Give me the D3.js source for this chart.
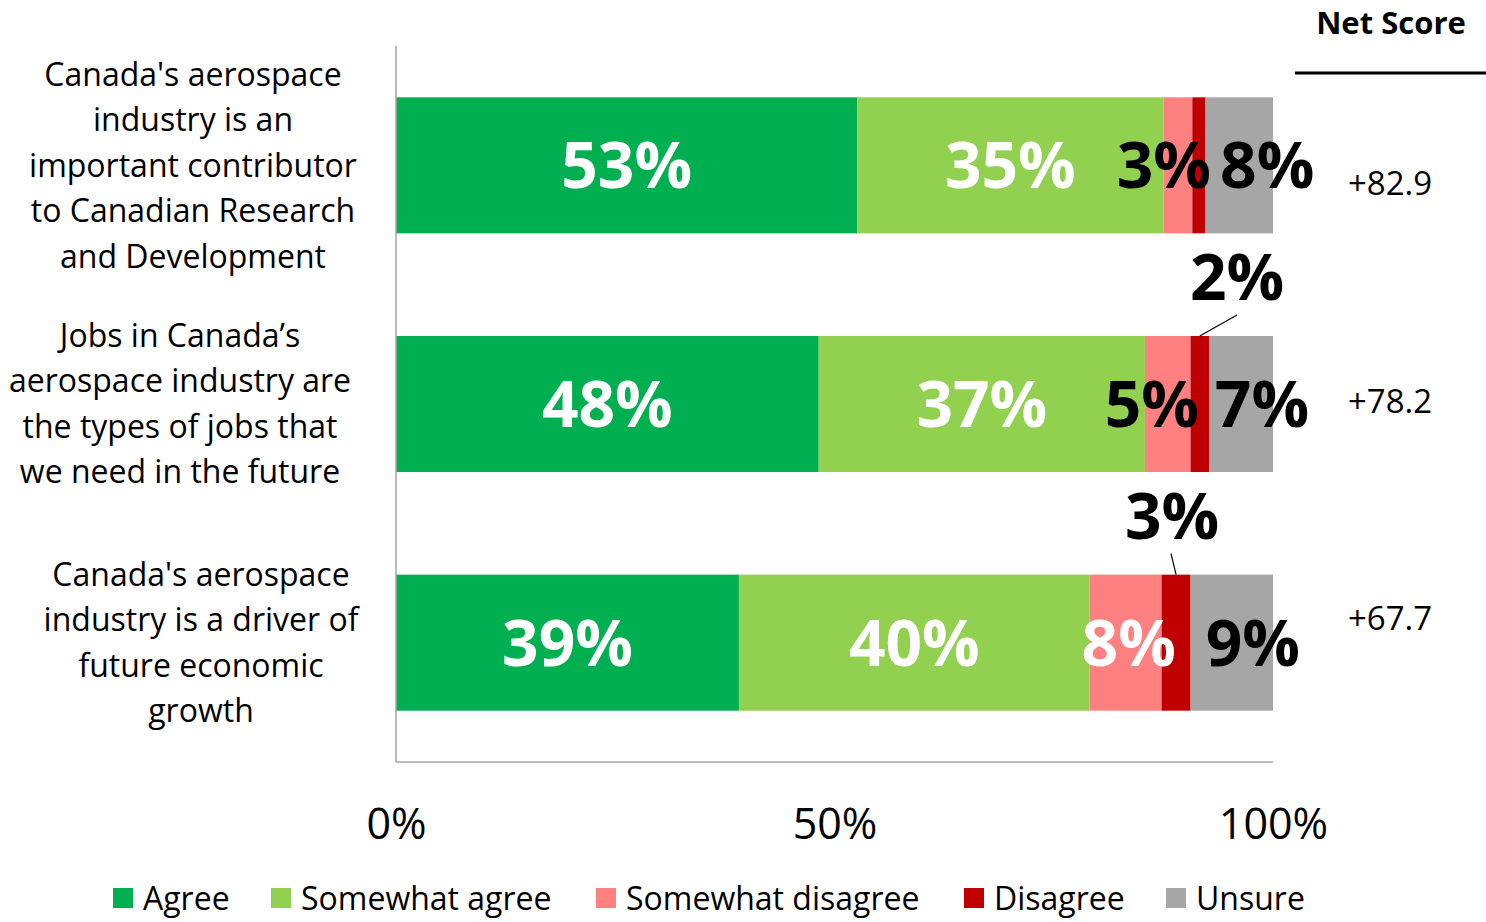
<!DOCTYPE html>
<html><head><meta charset="utf-8">
<script src="https://cdn.jsdelivr.net/npm/d3@7"></script>
<style>body{margin:0;background:#fff}svg{display:block}text{font-family:"Open Sans",sans-serif}</style>
</head><body>
<svg id="chart" width="1486" height="922"></svg>
<script>
// ---- data ----
const categories = [
  "Canada's aerospace industry is an important contributor to Canadian Research and Development",
  "Jobs in Canada’s aerospace industry are the types of jobs that we need in the future",
  "Canada's aerospace industry is a driver of future economic growth"
];
const categoryLines = [
  ["Canada's aerospace", "industry is an", "important contributor", "to Canadian Research", "and Development"],
  ["Jobs in Canada’s", "aerospace industry are", "the types of jobs that", "we need in the future"],
  ["Canada's aerospace", "industry is a driver of", "future economic", "growth"]
];
const seriesNames = ["Agree", "Somewhat agree", "Somewhat disagree", "Disagree", "Unsure"];
const agree            = [52.6, 48.2, 39.1];
const somewhatAgree    = [34.9, 37.2, 40.0];
const somewhatDisagree = [3.3, 5.2, 8.2];
const disagree         = [1.5, 2.1, 3.3];
const unsure           = [7.7, 7.3, 9.4];
const netScores = ["+82.9", "+78.2", "+67.7"];
const tickValues = [0, 50, 100];
const tickLabels = ["0%", "50%", "100%"];
const colors = ["#00B050", "#92D050", "#FF8080", "#C00000", "#A6A6A6"];

// ---- layout ----
const svg = d3.select("#chart");
const x = d3.scaleLinear().domain([0, 100]).range([396, 1273]);
const y = d3.scaleBand().domain(categories).range([46, 762]).paddingInner(0.43).paddingOuter(0.215);

const series = [agree, somewhatAgree, somewhatDisagree, disagree, unsure];
const rows = categories.map((c, i) => {
  const r = {cat: c};
  seriesNames.forEach((s, k) => r[s] = series[k][i]);
  return r;
});
const stack = d3.stack().keys(seriesNames)(rows);

// bars
stack.forEach((layer, k) => {
  svg.append("g").attr("fill", colors[k]).selectAll("rect").data(layer).join("rect")
    .attr("x", d => x(d[0])).attr("width", d => x(d[1]) - x(d[0]))
    .attr("y", d => y(d.data.cat)).attr("height", y.bandwidth());
});

// axes lines
const axisG = svg.append("g");
axisG.append("line").attr("x1", x(0)).attr("x2", x(0)).attr("y1", 46).attr("y2", 762)
  .attr("stroke", "#a6a6a6").attr("stroke-width", 1.5);
axisG.append("line").attr("x1", x(0)).attr("x2", x(100)).attr("y1", 762).attr("y2", 762)
  .attr("stroke", "#a6a6a6").attr("stroke-width", 1.5);
const xAxis = d3.axisBottom(x).tickValues(tickValues).tickFormat((d, i) => tickLabels[i]).tickSize(0).tickPadding(0);
const gx = svg.append("g").attr("transform", "translate(0,808)").call(xAxis);
gx.select(".domain").remove();
gx.selectAll("text").attr("font-size", 43).attr("fill", "#000").attr("dy", "0.72em")
  .style("font-family", "'Open Sans',sans-serif");

// category labels
const catCx = [193, 180, 201];
categoryLines.forEach((lines, i) => {
  const cy = y(categories[i]) + y.bandwidth() / 2;
  const lh = 45.5;
  const t = svg.append("text").attr("text-anchor", "middle").attr("font-size", 32).attr("fill", "#000");
  lines.forEach((ln, j) => {
    t.append("tspan").attr("x", catCx[i])
      .attr("y", cy + (j - (lines.length - 1) / 2) * lh).attr("dy", "0.35em").text(ln);
  });
});

// data labels
const fmt = v => Math.round(v) + "%";
const labelColor = (k, i) => (k <= 1 || (k === 2 && i === 2)) ? "#fff" : "#000";
const sdDx = [-14, -16, 3];
const unDx = [28, 21, 21];
stack.forEach((layer, k) => {
  layer.forEach((d, i) => {
    const cy = y(d.data.cat) + y.bandwidth() / 2;
    let cx = (x(d[0]) + x(d[1])) / 2;
    if (k === 3) {
      if (i === 0) return;
      const top = y(d.data.cat);
      const lx = [0, 1237, 1172][i];
      const lineTopX = [0, 1237, 1171][i];
      svg.append("line").attr("x1", cx).attr("y1", top).attr("x2", lineTopX).attr("y2", top - 21)
        .attr("stroke", "#000").attr("stroke-width", 1.2);
      svg.append("text").attr("x", lx).attr("y", top - 36).attr("text-anchor", "middle")
        .attr("font-size", 64).attr("font-weight", 700).attr("fill", "#000").text(fmt(d[1] - d[0]));
      return;
    }
    if (k === 2) cx += sdDx[i];
    if (k === 4) cx += unDx[i];
    svg.append("text").attr("x", cx).attr("y", cy).attr("dy", "0.36em").attr("text-anchor", "middle")
      .attr("font-size", 64).attr("font-weight", 700).attr("fill", labelColor(k, i))
      .text(fmt(d[1] - d[0]));
  });
});

// net score
svg.append("text").attr("x", 1391).attr("y", 34).attr("text-anchor", "middle")
  .attr("font-size", 31).attr("font-weight", 700).attr("fill", "#000").text("Net Score");
svg.append("line").attr("x1", 1295).attr("x2", 1486).attr("y1", 73).attr("y2", 73)
  .attr("stroke", "#000").attr("stroke-width", 3);
const netDy = [18, -3, -25];
netScores.forEach((s, i) => {
  const cy = y(categories[i]) + y.bandwidth() / 2 + netDy[i];
  svg.append("text").attr("x", 1390).attr("y", cy).attr("dy", "0.36em").attr("text-anchor", "middle")
    .attr("font-size", 33).attr("fill", "#000").text(s);
});

// legend
const legX = [113, 271, 596, 964, 1166];
const leg = svg.append("g");
seriesNames.forEach((s, k) => {
  leg.append("rect").attr("x", legX[k]).attr("y", 888).attr("width", 20).attr("height", 20).attr("fill", colors[k]);
  leg.append("text").attr("x", legX[k] + 30).attr("y", 898).attr("dy", "0.36em")
    .attr("font-size", 32).attr("fill", "#000").text(s);
});
</script>
</body></html>
